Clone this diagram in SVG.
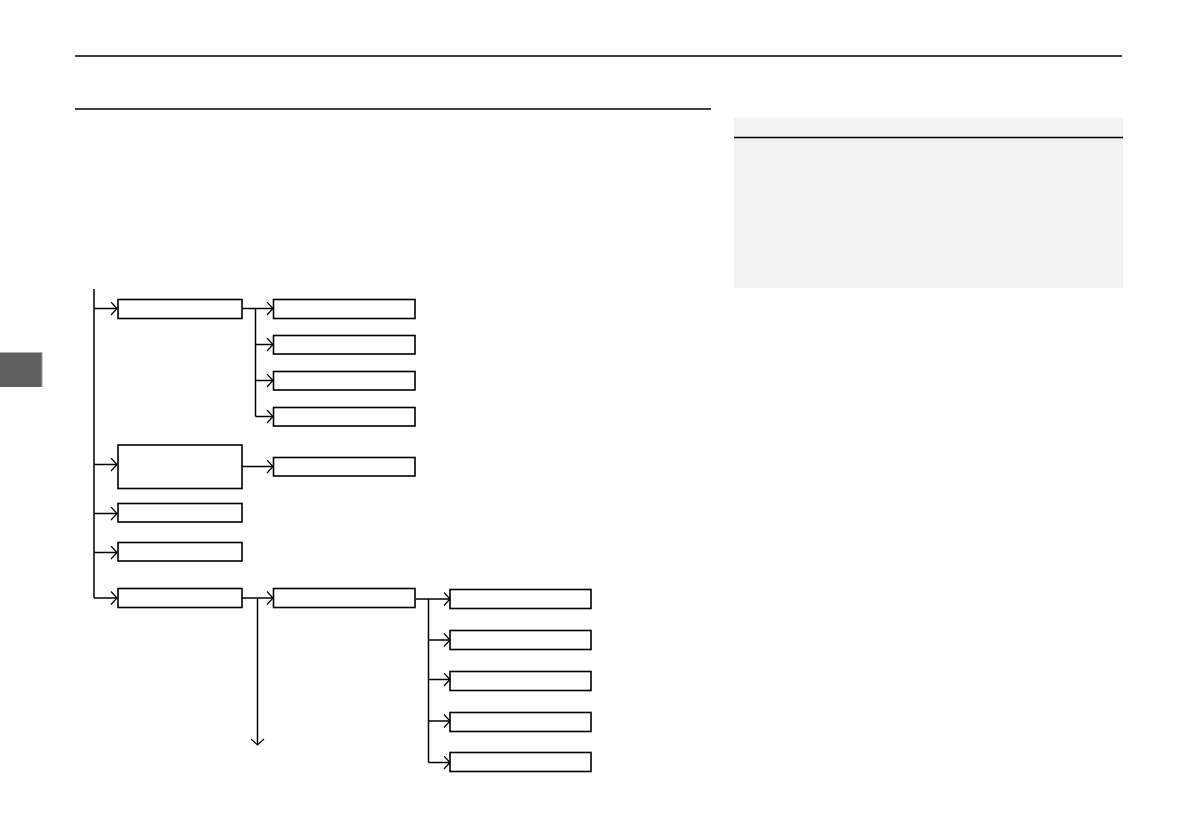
<svg xmlns="http://www.w3.org/2000/svg" width="1192" height="840" viewBox="0 0 1192 840">
<style>
.box{fill:#fff;stroke:#000;stroke-width:1.6}
.ln{fill:none;stroke:#000;stroke-width:1.5}
.arr{fill:none;stroke:#000;stroke-width:1.5;marker-end:url(#chev)}
.rule{stroke:#000;stroke-width:1.5}
</style>
<defs>
<marker id="chev" viewBox="0 0 8 14" markerWidth="8" markerHeight="14" refX="7" refY="7" orient="auto" markerUnits="userSpaceOnUse">
<path d="M1,0.5 L7,7 L1,13.5" fill="none" stroke="#000" stroke-width="1.2"/>
</marker>
</defs>
<rect width="1192" height="840" fill="#fff"/>
<line class="rule" x1="75" y1="56" x2="1122" y2="56"/>
<line class="rule" x1="75" y1="109" x2="711" y2="109"/>
<rect x="734" y="118" width="389" height="170" fill="#f2f2f2"/>
<line class="rule" x1="734" y1="137.5" x2="1123" y2="137.5"/>
<rect x="0" y="352.5" width="42" height="34.5" fill="#616161"/>
<rect x="41.5" y="352.5" width="1" height="34.5" fill="#a0a0a0"/>
<g id="connectors">
<line class="ln" x1="94" y1="289" x2="94" y2="598"/>
<path class="arr" d="M94,308.5 H117"/>
<path class="arr" d="M94,464.5 H117"/>
<path class="arr" d="M94,513.5 H117"/>
<path class="arr" d="M94,552.5 H117"/>
<path class="arr" d="M94,598 H117"/>
<path class="arr" d="M242,308.5 H273"/>
<line class="ln" x1="255.5" y1="308.5" x2="255.5" y2="416.5"/>
<path class="arr" d="M255.5,344.5 H273"/>
<path class="arr" d="M255.5,380.5 H273"/>
<path class="arr" d="M255.5,416.5 H273"/>
<path class="arr" d="M242,466.5 H273"/>
<path class="arr" d="M242,598 H273"/>
<path class="arr" d="M257.5,598 V745"/>
<path class="arr" d="M416,599 H450"/>
<line class="ln" x1="428.5" y1="599" x2="428.5" y2="762.5"/>
<path class="arr" d="M428.5,640 H450"/>
<path class="arr" d="M428.5,679.5 H450"/>
<path class="arr" d="M428.5,721 H450"/>
<path class="arr" d="M428.5,762.5 H450"/>
</g>
<g id="n1"><rect class="box" x="118" y="299.5" width="124" height="19"/></g>
<g id="n2"><rect class="box" x="273.5" y="299.5" width="141.5" height="19"/></g>
<g id="n3"><rect class="box" x="273.5" y="335.5" width="141.5" height="18.5"/></g>
<g id="n4"><rect class="box" x="273.5" y="371.5" width="141.5" height="18.5"/></g>
<g id="n5"><rect class="box" x="273.5" y="407.5" width="141.5" height="18.5"/></g>
<g id="n6"><rect class="box" x="118" y="445" width="124" height="43.5"/></g>
<g id="n7"><rect class="box" x="273.5" y="457.5" width="141.5" height="18.5"/></g>
<g id="n8"><rect class="box" x="118" y="503.5" width="124" height="18.5"/></g>
<g id="n9"><rect class="box" x="118" y="542.5" width="124" height="18.5"/></g>
<g id="n10"><rect class="box" x="118" y="588.5" width="124" height="19"/></g>
<g id="n11"><rect class="box" x="273.5" y="588.5" width="141.5" height="19"/></g>
<g id="n12"><rect class="box" x="450" y="589.5" width="141" height="19"/></g>
<g id="n13"><rect class="box" x="450" y="630.5" width="141" height="19"/></g>
<g id="n14"><rect class="box" x="450" y="671.5" width="141" height="19"/></g>
<g id="n15"><rect class="box" x="450" y="712.5" width="141" height="19"/></g>
<g id="n16"><rect class="box" x="450" y="752.5" width="141" height="19"/></g>
</svg>
